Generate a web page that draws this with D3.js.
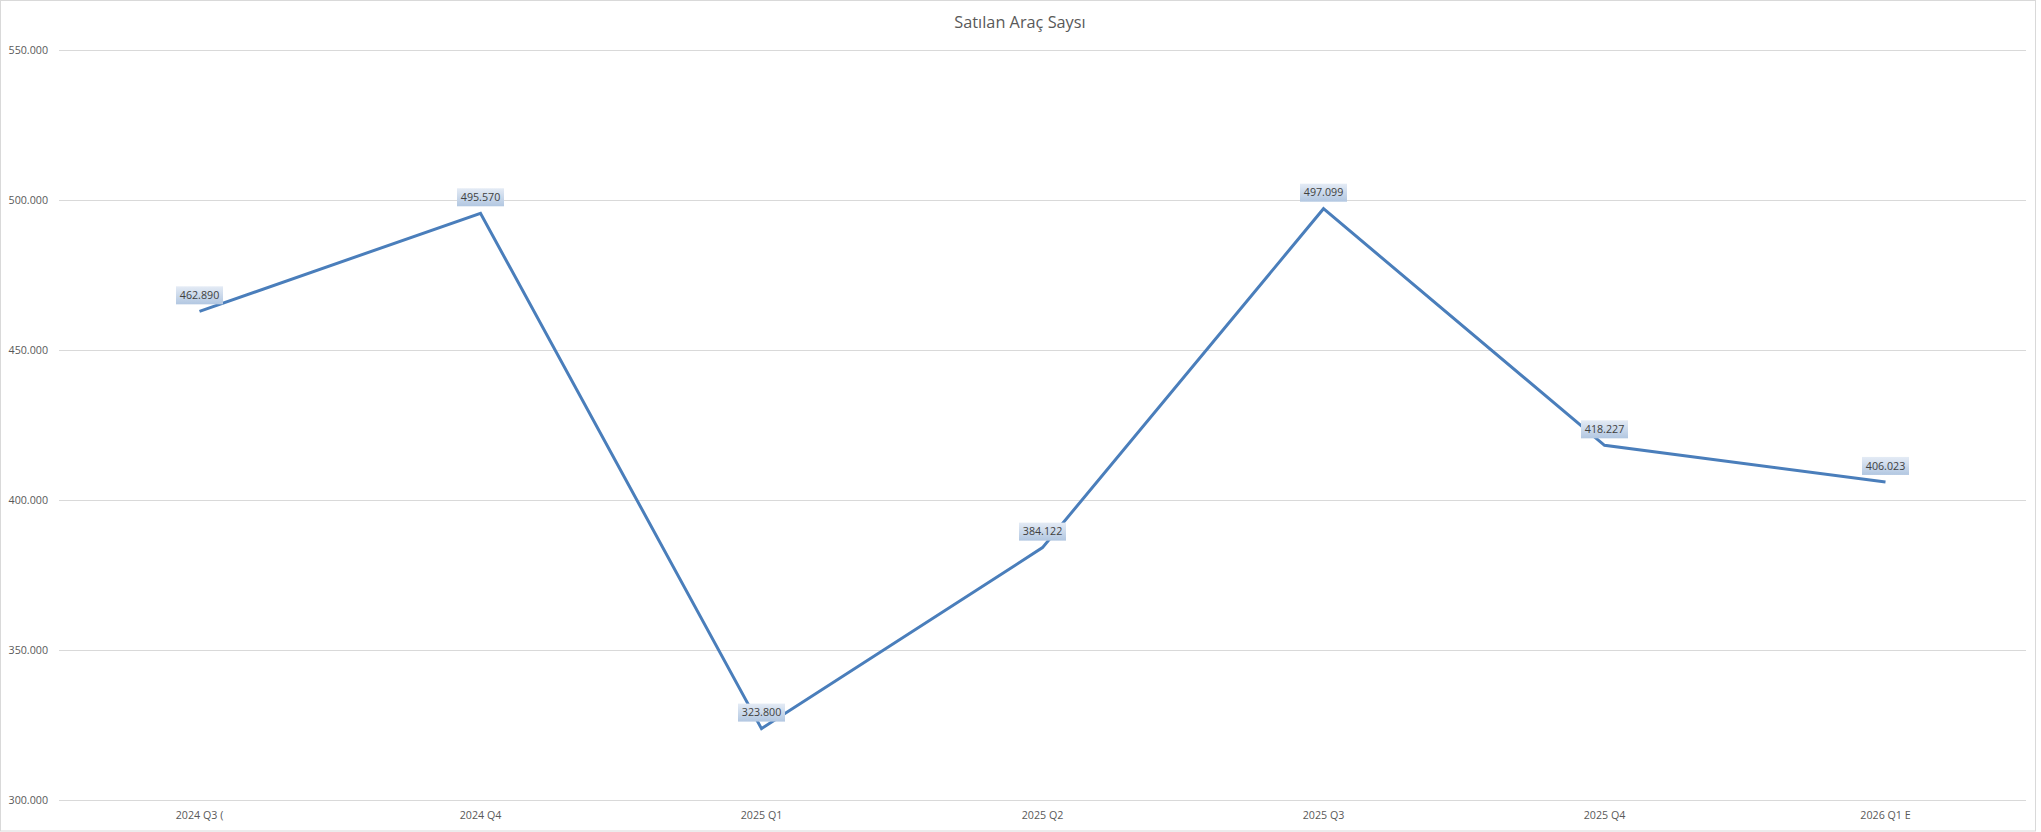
<!DOCTYPE html>
<html><head><meta charset="utf-8">
<script src="https://cdn.jsdelivr.net/npm/d3@7"></script>
<style>html,body{margin:0;padding:0;background:#fff;}svg{display:block;}</style>
</head><body>
<script>
const categories = ["2024 Q3 (", "2024 Q4", "2025 Q1", "2025 Q2", "2025 Q3", "2025 Q4", "2026 Q1 E"];
const values = [462890, 495570, 323800, 384122, 497099, 418227, 406023];
const yTicks = [300000, 350000, 400000, 450000, 500000, 550000];
const title = "Satılan Araç Saysı";

const W = 2041, H = 832;
const m = {left: 59, right: 2026, top: 50, bottom: 800};
const font = "'Open Sans', 'Noto Sans', sans-serif";
const fmt = v => d3.format(",.0f")(v).replace(/,/g, ".");
const fmtTick = v => d3.format(",.3f")(v/1000).replace(/,/g, "");

const svg = d3.select("body").append("svg").attr("width", W).attr("height", H);
const defs = svg.append("defs");
const grad = defs.append("linearGradient").attr("id","lblg").attr("x1",0).attr("y1",0).attr("x2",0).attr("y2",1);
grad.append("stop").attr("offset","0%").attr("stop-color","#e4ebf5");
grad.append("stop").attr("offset","100%").attr("stop-color","#b2c7e1");

svg.append("rect").attr("x",0.5).attr("y",0.5).attr("width",2035).attr("height",830.5)
  .attr("fill","#fff").attr("stroke","#d9d9d9").attr("stroke-width",1);

const x = d3.scaleBand().domain(categories).range([m.left, m.right]).padding(0);
const y = d3.scaleLinear().domain([300000, 550000]).range([m.bottom, m.top]);

// gridlines
const yAxis = d3.axisLeft(y).tickValues(yTicks).tickSize(-(m.right - m.left)).tickFormat(fmtTick).tickPadding(11);
const gy = svg.append("g").attr("transform", `translate(${m.left},0)`).call(yAxis);
gy.select(".domain").remove();
gy.selectAll(".tick line").attr("stroke","#d9d9d9").attr("stroke-width",1);
gy.selectAll(".tick text").attr("fill","#595959").style("font-family",font).style("font-size","10.7px");

const xAxis = d3.axisBottom(x).tickSize(0).tickPadding(11);
const gx = svg.append("g").attr("transform", `translate(0,${m.bottom})`).call(xAxis);
gx.select(".domain").remove();
gx.selectAll(".tick text").attr("fill","#595959").style("font-family",font).style("font-size","10.7px");

svg.append("text").attr("x", 1020).attr("y", 28).attr("text-anchor","middle")
  .attr("fill","#595959").style("font-family",font).style("font-size","16.3px").text(title);

const cx = d => x(d) + x.bandwidth()/2;
const line = d3.line().x((d,i) => cx(categories[i])).y(d => y(d));
svg.append("path").datum(values).attr("d", line).attr("fill","none")
  .attr("stroke","#4a7ebb").attr("stroke-width",3).attr("stroke-linejoin","miter");

const lbl = svg.append("g").selectAll("g").data(values).join("g")
  .attr("transform", (d,i) => `translate(${cx(categories[i])},${y(d) - 16})`);
lbl.append("rect").attr("x",-23.5).attr("y",-9).attr("width",47).attr("height",18).attr("fill","url(#lblg)");
lbl.append("text").attr("text-anchor","middle").attr("dy","0.35em").attr("fill","#404040")
  .style("font-family",font).style("font-size","10.7px").text(d => fmt(d));
</script>
</body></html>
